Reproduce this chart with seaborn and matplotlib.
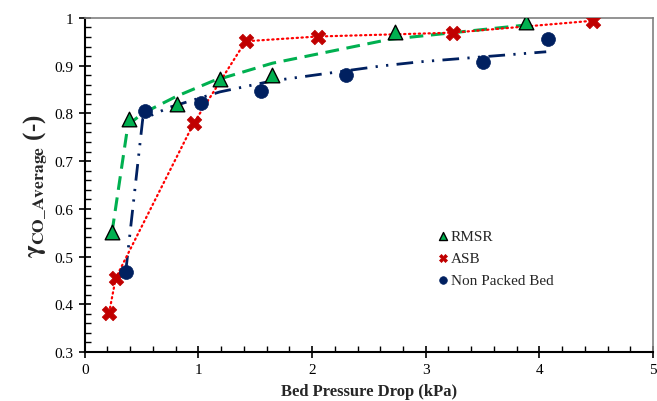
import matplotlib
matplotlib.use("Agg")
import matplotlib.pyplot as plt
from matplotlib.ticker import MultipleLocator
import pandas as pd
import seaborn as sns

# Measured points
rmsr_dp = [0.24, 0.39, 0.81, 1.19, 1.65, 2.73, 3.88]
rmsr_gamma = [0.551, 0.788, 0.820, 0.872, 0.880, 0.971, 0.992]

asb_dp = [0.214, 0.273, 0.96, 1.415, 2.048, 3.237, 4.469]
asb_gamma = [0.382, 0.455, 0.780, 0.951, 0.961, 0.969, 0.994]

npb_dp = [0.36, 0.53, 1.02, 1.555, 2.295, 3.506, 4.08]
npb_gamma = [0.467, 0.804, 0.822, 0.846, 0.881, 0.908, 0.955]

# Trend curves
rmsr_fit_dp = [0.24, 0.38, 0.51, 0.81, 1.13, 1.65, 2.68, 3.88]
rmsr_fit_gamma = [0.551, 0.776, 0.800, 0.836, 0.868, 0.905, 0.955, 0.985]

npb_fit_dp = [0.36, 0.51, 0.75, 1.19, 1.65, 2.60, 2.95, 4.06]
npb_fit_gamma = [0.467, 0.788, 0.813, 0.845, 0.868, 0.899, 0.908, 0.929]

x_ticks = [0, 1, 2, 3, 4, 5]
y_ticks = [0.3, 0.4, 0.5, 0.6, 0.7, 0.8, 0.9, 1.0]
y_tick_labels = ["0.3", "0.4", "0.5", "0.6", "0.7", "0.8", "0.9", "1"]

GREEN = "#00B050"
RED_LINE = "#FF0000"
RED_MARK = "#C00000"
NAVY = "#002060"

sns.set_theme(style="white")
plt.rcParams["font.family"] = ["Liberation Serif", "DejaVu Serif"]
plt.rcParams["mathtext.fontset"] = "stix"

fig, ax = plt.subplots(figsize=(6.57, 4.02), dpi=100)
fig.subplots_adjust(left=0.129, right=0.994, top=0.953, bottom=0.122)

rmsr_fit = pd.DataFrame({"dp": rmsr_fit_dp, "g": rmsr_fit_gamma})
npb_fit = pd.DataFrame({"dp": npb_fit_dp, "g": npb_fit_gamma})
asb = pd.DataFrame({"dp": asb_dp, "g": asb_gamma})
rmsr = pd.DataFrame({"dp": rmsr_dp, "g": rmsr_gamma})
npb = pd.DataFrame({"dp": npb_dp, "g": npb_gamma})

sns.lineplot(data=rmsr_fit, x="dp", y="g", ax=ax, sort=False, estimator=None,
             color=GREEN, linewidth=2.2, zorder=2)
ax.lines[-1].set_dashes([4.5, 2.5])
sns.lineplot(data=npb_fit, x="dp", y="g", ax=ax, sort=False, estimator=None,
             color=NAVY, linewidth=2.0, zorder=2)
ax.lines[-1].set_dashes([6, 3, 0.8, 3, 0.8, 3])
sns.lineplot(data=asb, x="dp", y="g", ax=ax, sort=False, estimator=None,
             color=RED_LINE, linewidth=1.6, zorder=2)
ax.lines[-1].set_linestyle((0, (0.6, 1.6)))
ax.lines[-1].set_dash_capstyle("round")

h1 = ax.scatter(rmsr["dp"], rmsr["g"], marker="^", s=110, color=GREEN,
                edgecolor="black", linewidth=1.0, zorder=3, label="RMSR")
h2 = ax.scatter(asb["dp"], asb["g"], marker="X", s=110, color=RED_MARK,
                edgecolor=RED_MARK, linewidth=0.5, zorder=3, label="ASB")
h3 = ax.scatter(npb["dp"], npb["g"], marker="o", s=100, color=NAVY,
                edgecolor=NAVY, linewidth=0.5, zorder=3, label="Non Packed Bed")

ax.set_xlim(0, 5)
ax.set_ylim(0.3, 1.0)
ax.set_xticks(x_ticks)
ax.set_xticklabels([str(v) for v in x_ticks])
ax.set_yticks(y_ticks)
ax.set_yticklabels(y_tick_labels)
ax.xaxis.set_minor_locator(MultipleLocator(0.2))
ax.yaxis.set_minor_locator(MultipleLocator(0.02))

ax.tick_params(axis="both", which="major", direction="inout", length=8, width=1.2,
               labelsize=11, colors="black", pad=4)
ax.tick_params(axis="both", which="minor", direction="in", length=4, width=1.0,
               colors="black")
ax.tick_params(bottom=True, left=True, top=False, right=False, which="both")

for side in ("left", "bottom"):
    ax.spines[side].set_color("black")
    ax.spines[side].set_linewidth(1.5)
for side in ("top", "right"):
    ax.spines[side].set_color("#808080")
    ax.spines[side].set_linewidth(1.2)

ax.set_xlabel("Bed Pressure Drop (kPa)", fontsize=12, fontweight="bold", labelpad=5)
ax.set_ylabel(r"$\mathbf{\gamma}_{\mathbf{CO\_Average}}$ (-)", fontsize=18,
              fontweight="bold", labelpad=4)

leg = ax.legend(handles=[h1, h2, h3], loc="upper left",
                bbox_to_anchor=(0.612, 0.385), frameon=False, fontsize=11,
                markerscale=0.55, handlelength=0.6, handletextpad=0.2,
                labelspacing=0.55, borderaxespad=0)

fig.savefig("out.png", dpi=100)
